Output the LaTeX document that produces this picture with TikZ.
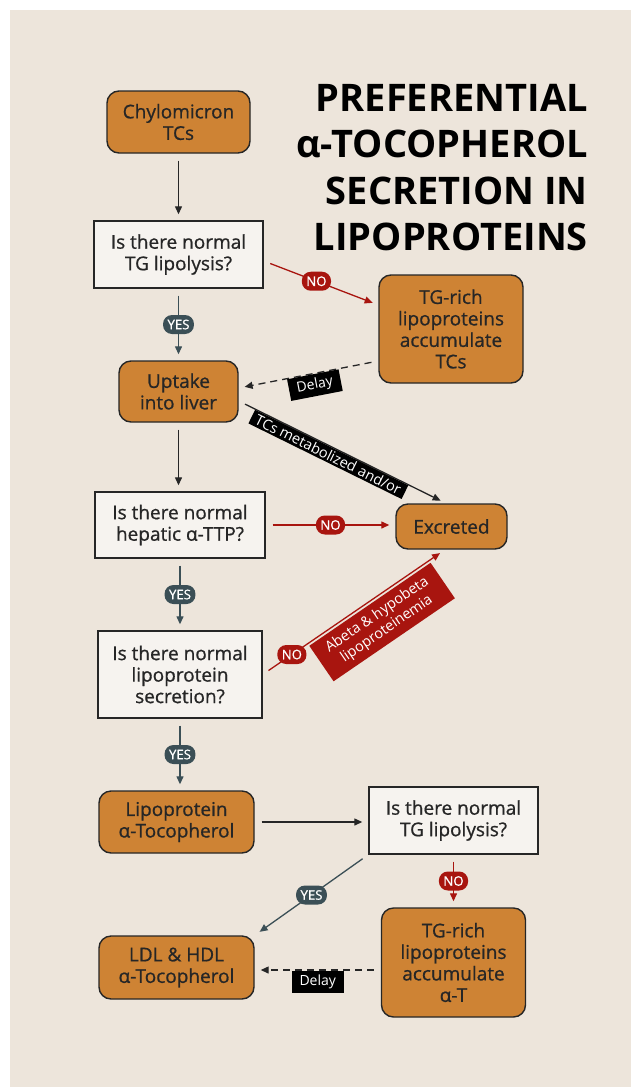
\documentclass[tikz,border=0pt]{standalone}
\usepackage{fontspec}
\setmainfont{Open Sans}
\newfontfamily\semifont{Open Sans}[FakeBold=0.8]
\usetikzlibrary{arrows.meta}
\definecolor{paperbg}{HTML}{EDE5DB}
\definecolor{boxorange}{HTML}{CE8334}
\definecolor{boxwhite}{HTML}{F6F3EF}
\definecolor{inkdark}{HTML}{262626}
\definecolor{nored}{HTML}{A8150F}
\definecolor{yesslate}{HTML}{3B4F56}

\tikzset{
  stepnode/.style={draw=inkdark, line width=1.4pt, align=center, text=inkdark,
    font=\semifont\fontsize{19}{21.5}\selectfont, inner sep=0pt},
  orangebox/.style={stepnode, fill=boxorange, rounded corners=12pt},
  askbox/.style={stepnode, fill=boxwhite},
  pill/.style={fill=#1, text=white, rounded corners=9pt, inner xsep=4.5pt,
    inner ysep=0pt, minimum height=19pt, font=\semifont\fontsize{13.2}{15}\selectfont},
  tag/.style={fill=#1, text=white, inner xsep=8pt, inner ysep=4pt,
    font=\fontsize{14}{16}\selectfont},
  flow/.style={line width=1.3pt, -{Triangle[length=8pt,width=7pt]},
    shorten <=7pt, shorten >=6pt},
  delayline/.style={flow, dash pattern=on 7pt off 5pt},
}

\begin{document}
\begin{tikzpicture}[x=1pt,y=-1pt]
  \useasboundingbox (0,0) rectangle (631,1087);
  \fill[paperbg] (10,10) rectangle (631,1087);

  \node[anchor=north east, align=right, inner sep=0pt, text=black,
    font=\fontsize{38}{46.5}\selectfont\bfseries] (title) at (588,84)
    {PREFERENTIAL\\α-TOCOPHEROL\\SECRETION IN\\LIPOPROTEINS};

  % left column
  \node[orangebox, minimum width=143pt, minimum height=62pt] (chylo) at (178.5,122) {Chylomicron\\TCs};
  \node[askbox, minimum width=169pt, minimum height=67pt] (q1) at (178.5,254.5) {Is there normal\\TG lipolysis?};
  \node[orangebox, minimum width=119pt, minimum height=61pt] (uptake) at (178.5,391.5) {Uptake\\into liver};
  \node[askbox, minimum width=170pt, minimum height=66pt] (q2) at (180,525) {Is there normal\\hepatic α-TTP?};
  \node[askbox, minimum width=164pt, minimum height=87pt] (q3) at (180,674.5) {Is there normal\\lipoprotein\\secretion?};
  \node[orangebox, minimum width=155pt, minimum height=62pt] (lipo) at (176.5,822) {Lipoprotein\\α-Tocopherol};
  \node[orangebox, minimum width=155pt, minimum height=63pt] (ldl) at (176.5,967.5) {LDL \& HDL\\α-Tocopherol};

  % right column
  \node[orangebox, minimum width=144pt, minimum height=108pt] (tgrich1) at (451,329) {TG-rich\\lipoproteins\\accumulate\\TCs};
  \node[orangebox, minimum width=111pt, minimum height=45pt] (excreted) at (451.5,526.5) {Excreted};
  \node[askbox, minimum width=169pt, minimum height=67pt] (q4) at (453.5,820.5) {Is there normal\\TG lipolysis?};
  \node[orangebox, minimum width=144pt, minimum height=109pt] (tgrich2) at (453.5,962.5) {TG-rich\\lipoproteins\\accumulate\\α-T};

  \coordinate (dl) at ([yshift=-2.5pt]ldl.east);

  \draw[flow, inkdark] (chylo) -- (q1);
  \draw[flow, nored] ([yshift=-6.5pt]q1.east) -- node[pill=nored, pos=0.46] (no1) {NO} ([yshift=24pt]tgrich1.west);
  \draw[flow, yesslate] (q1) -- node[pill=yesslate] (yes1) {YES} (uptake);
  \draw[delayline, inkdark] ([yshift=-32pt]tgrich1.west) -- node[tag=black, sloped, below, pos=0.47] (delay1) {Delay} ([yshift=3.5pt]uptake.east);
  \draw[flow, inkdark] ([yshift=-9.5pt]uptake.east) -- node[tag=black, sloped, below, pos=0.45, inner xsep=5pt, inner ysep=2pt, font=\fontsize{14.5}{16}\selectfont] (metab) {TCs metabolized and/or} ([xshift=-5.5pt]excreted.north);
  \draw[flow, inkdark] (uptake.south) -- (uptake.south |- q2.north);
  \draw[flow, nored] (q2.east) -- node[pill=nored] (no2) {NO} (q2.east -| excreted.west);
  \draw[flow, yesslate] (q2.south) -- node[pill=yesslate] (yes2) {YES} (q3.north);
  \draw[flow, nored] (q3.east) -- node[pill=nored, pos=0.16] (no3) {NO}
    node[tag=nored, sloped, below=2pt, pos=0.58, align=center, minimum width=147pt, minimum height=43pt, inner ysep=4pt, font=\fontsize{14.5}{17}\selectfont] (abeta) {Abeta \& hypobeta\\lipoproteinemia}
    ([xshift=-6.5pt]excreted.south);
  \draw[flow, yesslate] (q3.south) -- node[pill=yesslate] (yes3) {YES} (q3.south |- lipo.north);
  \draw[flow, inkdark] (lipo.east) -- (lipo.east -| q4.west);
  \draw[flow, yesslate] (q4.south west) -- node[pill=yesslate] (yes4) {YES} (ldl.north east);
  \draw[flow, nored] (q4.south) -- node[pill=nored] (no4) {NO} (q4.south |- tgrich2.north);
  \draw[delayline, inkdark] (dl -| tgrich2.west) -- node[tag=black, below] (delay2) {Delay} (dl);
\end{tikzpicture}
\end{document}
